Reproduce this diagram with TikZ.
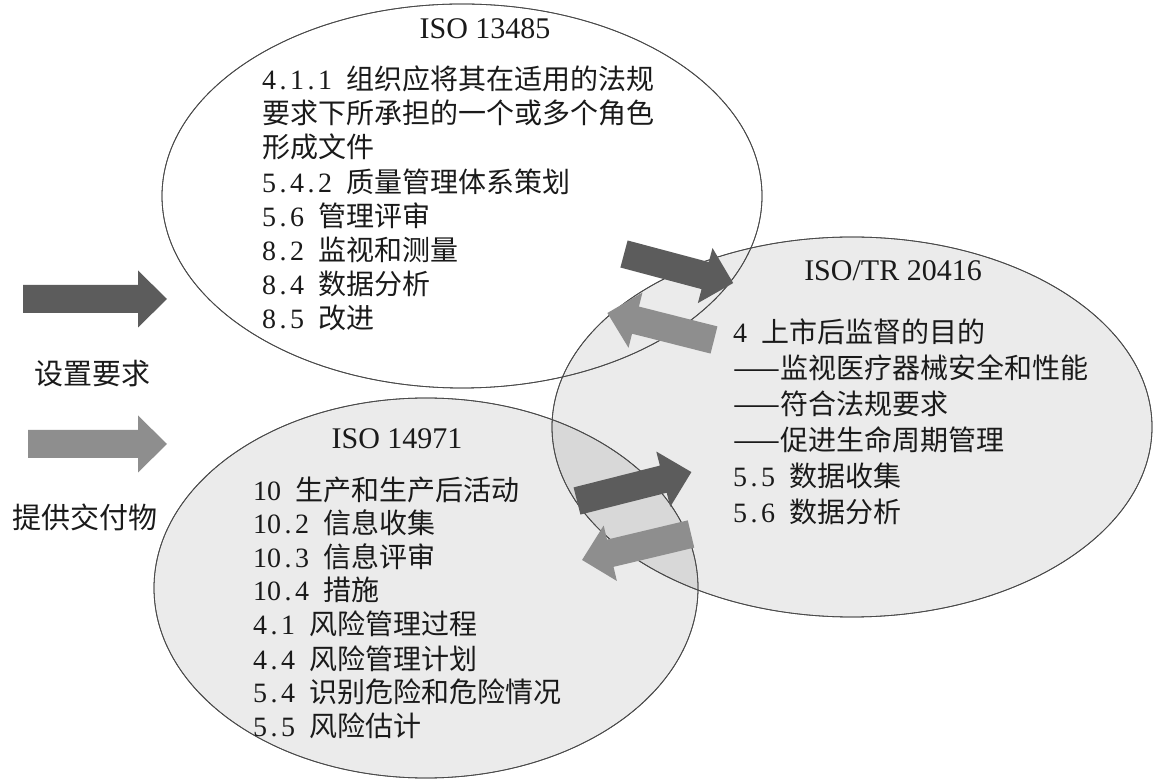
\documentclass[tikz,border=0pt]{standalone}
\usepackage{fontspec}
\usetikzlibrary{shapes.geometric}
\setmainfont{Liberation Serif}
\newfontfamily\cjk{Noto Sans CJK SC}
\newcommand\hwc[1]{\makebox[14pt][c]{#1}}
\def\mono#1{\monoloop#1\relax}
\def\monoloop#1{\ifx#1\relax\else\hwc{#1}\expandafter\monoloop\fi}
\definecolor{darkarr}{HTML}{5C5C5C}
\definecolor{lightarr}{HTML}{8E8E8E}
\definecolor{edge}{HTML}{4A4A4A}
\definecolor{ink}{HTML}{1A1A1A}
% #1 name, #2 x, #3 y (tail middle), #4 angle, #5 length, #6 colour
\newcommand\blockarrow[6]{%
  \begin{scope}[shift={(#2,#3)}, rotate=#4]
    \coordinate (#1-tail) at (0,0);
    \coordinate (#1-tip) at (#5,0);
    \fill[#6] (0,-14) -- ({#5-29},-14) -- ({#5-29},-28.5) -- (#1-tip)
      -- ({#5-29},28.5) -- ({#5-29},14) -- (0,14) -- cycle;
  \end{scope}}
\begin{document}
\begin{tikzpicture}[x=1pt,y=1pt,
  bubble/.style={ellipse, draw=edge, line width=0.8pt, inner sep=0pt},
  shade/.style={fill=black, fill opacity=0.08},
  txt/.style={inner sep=0pt, text=ink, font=\fontsize{28}{34}\selectfont, anchor=base west},
  head/.style={inner sep=0pt, text=ink, font=\fontsize{30}{34}\selectfont, anchor=base},
  legend/.style={inner sep=0pt, text=ink, font=\cjk\fontsize{29}{34}\selectfont}]
\useasboundingbox (0,0) rectangle (1153,779);
\fill[white] (0,0) rectangle (1153,779);

% ellipses
\node[bubble, fill=white, minimum width=600pt, minimum height=384pt] (e13485) at (462,583) {};
\node[bubble, shade, minimum width=600pt, minimum height=380pt] (e20416) at (852,352) {};
\node[bubble, shade, minimum width=544pt, minimum height=380pt] (e14971) at (426,191) {};
% outlines again on top of the fills
\draw[edge, line width=0.8pt] (462,583) ellipse [x radius=300, y radius=192];
\draw[edge, line width=0.8pt] (852,352) ellipse [x radius=300, y radius=190];
\draw[edge, line width=0.8pt] (426,191) ellipse [x radius=272, y radius=190];

% legend arrows
\blockarrow{legA}{23}{480}{0}{144}{darkarr}
\blockarrow{legB}{28}{335}{0}{139}{lightarr}
\node[legend] (legAtext) at (92,405) {设置要求};
\node[legend] (legBtext) at (85,262) {提供交付物};

% exchange arrows
\blockarrow{arrA}{624}{525}{-14.9}{113}{darkarr}
\blockarrow{arrB}{714}{439}{165.8}{110}{lightarr}
\blockarrow{arrC}{577}{278}{14.2}{118}{darkarr}
\blockarrow{arrD}{691}{245}{193.4}{112}{lightarr}

% ISO 13485
\node[head] (h1) at (485,740) {ISO 13485};
\node[txt] (a1) at (262,689) {\mono{4.1.1}\hwc{}{\cjk 组织应将其在适用的法规}};
\node[txt] (a2) at (262,655) {{\cjk 要求下所承担的一个或多个角色}};
\node[txt] (a3) at (262,621) {{\cjk 形成文件}};
\node[txt] (a4) at (262,586) {\mono{5.4.2}\hwc{}{\cjk 质量管理体系策划}};
\node[txt] (a5) at (262,552) {\mono{5.6}\hwc{}{\cjk 管理评审}};
\node[txt] (a6) at (262,518) {\mono{8.2}\hwc{}{\cjk 监视和测量}};
\node[txt] (a7) at (262,484) {\mono{8.4}\hwc{}{\cjk 数据分析}};
\node[txt] (a8) at (262,450) {\mono{8.5}\hwc{}{\cjk 改进}};

% ISO/TR 20416
\node[head] (h2) at (893,498) {ISO/TR 20416};
\node[txt] (b1) at (733,436) {\mono{4}\hwc{}{\cjk 上市后监督的目的}};
\node[txt] (b2) at (733,400) {{\cjk ——监视医疗器械安全和性能}};
\node[txt] (b3) at (733,364) {{\cjk ——符合法规要求}};
\node[txt] (b4) at (733,328) {{\cjk ——促进生命周期管理}};
\node[txt] (b5) at (733,292) {\mono{5.5}\hwc{}{\cjk 数据收集}};
\node[txt] (b6) at (733,256) {\mono{5.6}\hwc{}{\cjk 数据分析}};

% ISO 14971
\node[head] (h3) at (397,330) {ISO 14971};
\node[txt] (c1) at (253,278) {\mono{10}\hwc{}{\cjk 生产和生产后活动}};
\node[txt] (c2) at (253,245) {\mono{10.2}\hwc{}{\cjk 信息收集}};
\node[txt] (c3) at (253,211) {\mono{10.3}\hwc{}{\cjk 信息评审}};
\node[txt] (c4) at (253,178) {\mono{10.4}\hwc{}{\cjk 措施}};
\node[txt] (c5) at (253,144) {\mono{4.1}\hwc{}{\cjk 风险管理过程}};
\node[txt] (c6) at (253,110) {\mono{4.4}\hwc{}{\cjk 风险管理计划}};
\node[txt] (c7) at (253,77) {\mono{5.4}\hwc{}{\cjk 识别危险和危险情况}};
\node[txt] (c8) at (253,43) {\mono{5.5}\hwc{}{\cjk 风险估计}};
\end{tikzpicture}
\end{document}
